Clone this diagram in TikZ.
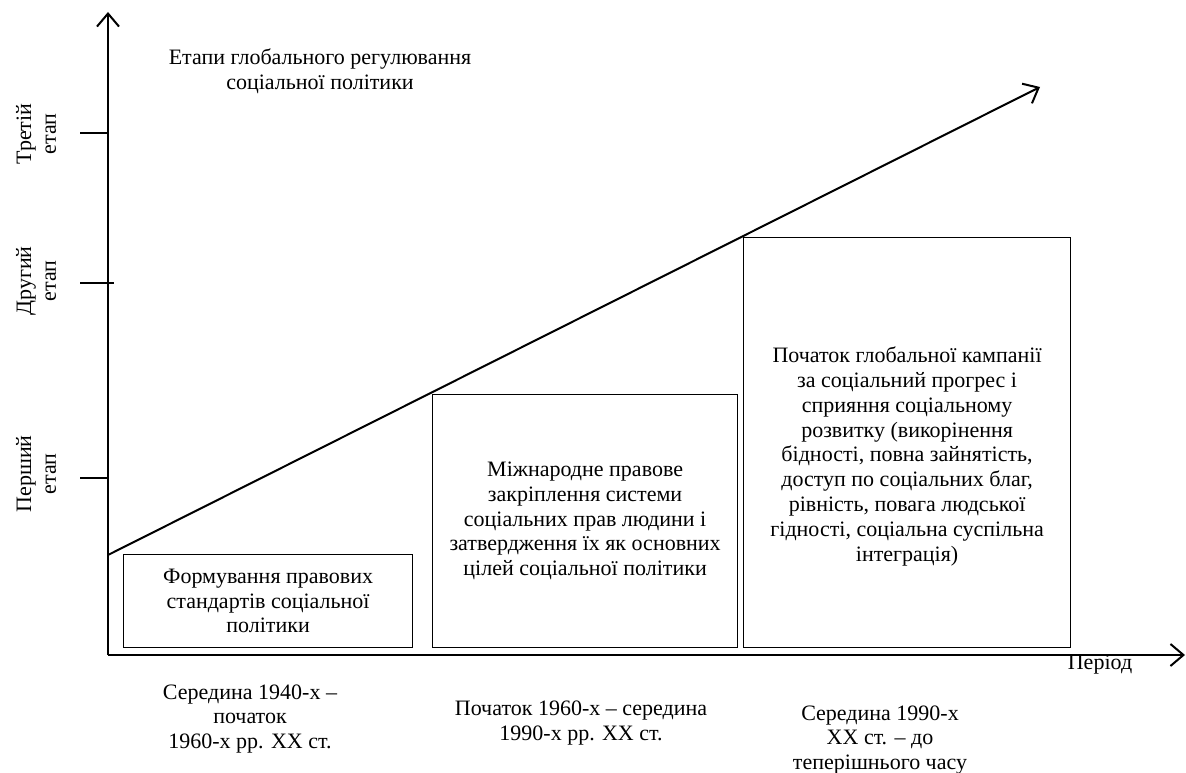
\documentclass[tikz,border=0pt]{standalone}
\usepackage{fontspec}
\setmainfont{Liberation Serif}
\usetikzlibrary{arrows.meta}

\begin{document}
\begin{tikzpicture}[x=1pt, y=-1pt,
    every node/.style = {align=center, font=\fontsize{22}{24.8}\selectfont},
    axis/.style = {line width=2pt, -{Straight Barb[length=13pt,width=22pt]}},
    stagebox/.style = {draw, line width=1.2pt, anchor=south west, inner sep=0pt},
    tickline/.style = {line width=1.6pt}]
  \useasboundingbox (0,0) rectangle (1186,773);

  % axes
  \coordinate (o) at (108,655);
  \coordinate (ytip) at (108,12);
  \coordinate (xtip) at (1185,655);
  \coordinate (dstart) at (108,555);
  \coordinate (dtip) at (1040,87);
  \draw[axis] (o) -- (ytip);
  \draw[axis] (o) -- (xtip);
  \draw[axis] (dstart) -- (dtip);

  % stage ticks
  \draw[tickline] (80,478) -- (108,478);
  \draw[tickline] (80,283) -- (114,283);
  \draw[tickline] (80,133) -- (108,133);
  \node[rotate=90] (st1) at (36,474) {Перший\\етап};
  \node[rotate=90] (st2) at (36,281) {Другий\\етап};
  \node[rotate=90] (st3) at (36,134) {Третій\\етап};

  \node (title) at (320,71) {Етапи глобального регулювання\\соціальної політики};

  % stages
  \node[stagebox, minimum width=289pt, minimum height=93pt] (first) at (123,648)
    {Формування правових\\стандартів соціальної\\політики};
  \node[stagebox, minimum width=305pt, minimum height=253pt] (second) at (432,648)
    {Міжнародне правове\\закріплення системи\\соціальних прав людини і\\затвердження їх як основних\\цілей соціальної політики};
  \node[stagebox, minimum width=327pt, minimum height=410pt] (third) at (743,648) {};
  \node (thirdtext) at ([yshift=-14pt]third.center)
    {Початок глобальної кампанії\\за соціальний прогрес і\\сприяння соціальному\\розвитку (викорінення\\бідності, повна зайнятість,\\доступ по соціальних благ,\\рівність, повага людської\\гідності, соціальна суспільна\\інтеграція)};

  % periods
  \node (p1) at (250,719) {Середина 1940-х –\\початок\\1960-х рр. XX ст.};
  \node (p2) at (581,723) {Початок 1960-х – середина\\1990-х рр. XX ст.};
  \node (p3) at (880,740) {Середина 1990-х\\XX ст. – до\\теперішнього часу};
  \node (period) at (1100,665) {Період};
\end{tikzpicture}
\end{document}
